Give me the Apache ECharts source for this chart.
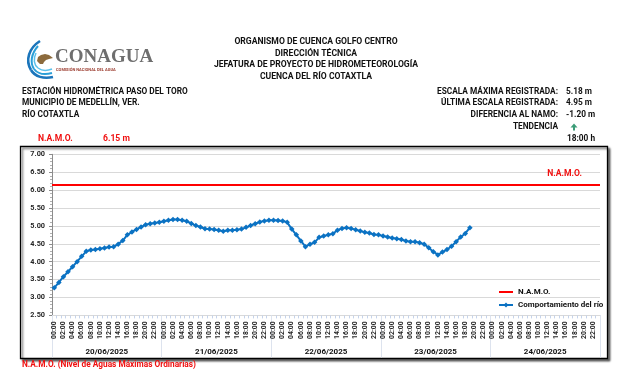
<!DOCTYPE html>
<html><head><meta charset="utf-8">
<script src="https://cdn.jsdelivr.net/npm/echarts@6/dist/echarts.min.js"></script>
<style>html,body{margin:0;padding:0;background:#fff}#c{width:633px;height:373px}</style>
</head><body><div id="c"></div>
<script>
// ---- data ----
var hourLabels = ['00:00','01:00','02:00','03:00','04:00','05:00','06:00','07:00','08:00','09:00','10:00','11:00',
                  '12:00','13:00','14:00','15:00','16:00','17:00','18:00','19:00','20:00','21:00','22:00','23:00'];
var dayLabels = ['20/06/2025','21/06/2025','22/06/2025','23/06/2025','24/06/2025'];
var namoLevel = 6.15;
var riverLevel = [
  3.27,3.42,3.58,3.72,3.86,4.00,4.15,4.29,4.33,4.34,4.36,4.38,4.41,4.42,4.49,4.59,4.75,4.83,4.90,4.97,
  5.03,5.06,5.08,5.10,5.13,5.16,5.18,5.18,5.16,5.13,5.07,5.01,4.97,4.92,4.91,4.90,4.88,4.85,4.88,4.88,
  4.89,4.91,4.96,5.01,5.06,5.11,5.14,5.16,5.16,5.15,5.14,5.10,4.91,4.75,4.58,4.42,4.49,4.54,4.68,4.72,
  4.75,4.78,4.88,4.93,4.95,4.93,4.89,4.86,4.82,4.80,4.76,4.75,4.72,4.69,4.66,4.64,4.62,4.58,4.56,4.56,
  4.53,4.49,4.39,4.28,4.19,4.27,4.34,4.43,4.56,4.69,4.79,4.95
];
var yTicks = {min: 2.5, max: 7, step: 0.5};
var titleLines = ['ORGANISMO DE CUENCA GOLFO CENTRO','DIRECCIÓN TÉCNICA','JEFATURA DE PROYECTO DE HIDROMETEOROLOGÍA','CUENCA DEL RÍO COTAXTLA'];
var stationLines = ['ESTACIÓN HIDROMÉTRICA PASO DEL TORO','MUNICIPIO DE MEDELLÍN, VER.','RÍO COTAXTLA'];
var infoLabels = ['ESCALA MÁXIMA REGISTRADA:','ÚLTIMA ESCALA REGISTRADA:','DIFERENCIA AL NAMO:','TENDENCIA'];
var infoValues = ['5.18 m','4.95 m','-1.20 m'];
var lastHour = '18:00 h';

// ---- build ----
var categories = [];
dayLabels.forEach(function(d){ hourLabels.forEach(function(h){ categories.push(h); }); });

var FONT = 'Roboto';
var txt = function(x, y, s, opt){
  opt = opt || {};
  return {type:'text', x:x, y:y, z:10, style:{text:s, fontWeight:'bold', fontSize:(opt.size||8.3), fontFamily:(opt.family||FONT),
    fill: opt.color || '#111', textAlign: opt.align || 'left', textVerticalAlign:'middle'}};
};
var bz = function(p, color, w){
  return {type:'bezierCurve', shape:{x1:p[0], y1:p[1], cpx1:p[2], cpy1:p[3], cpx2:p[4], cpy2:p[5], x2:p[6], y2:p[7]},
    style:{fill:null, stroke:color, lineWidth:w}};
};

var graphics = [];
// frame
graphics.push({type:'rect', z:-1, shape:{x:20.5, y:146.5, width:587, height:212},
  style:{fill:'#fff', stroke:'#000', lineWidth:1.3, shadowBlur:2, shadowOffsetX:2, shadowOffsetY:2, shadowColor:'rgba(0,0,0,0.55)'}});
// logo
graphics.push({type:'group', z:10, children:[
  bz([40,41, 29,48, 25,60, 31,70], '#1b75bb', 2.6),
  bz([31,70, 35,77, 44,79, 53,77], '#1b75bb', 2.6),
  bz([38,46, 31,54, 30,63, 34,69], '#2a9fd8', 2),
  bz([34,69, 38,74, 45,75, 52,73], '#2a9fd8', 2),
  bz([36,53, 33,59, 34,65, 38,68], '#5bc0ea', 1.5),
  bz([38,68, 42,71, 47,71, 52,69], '#5bc0ea', 1.5),
  {type:'polygon', shape:{points:[[37,61],[38,57],[41,55],[45,54],[49,55],[53,58],[49,59],[46,60],[44,62],[43,64],[40,64]]}, style:{fill:'#8c6a3c'}},
  {type:'text', x:55, y:57, style:{text:'CONAGUA', fontWeight:'bold', fontSize:19, fontFamily:'Liberation Serif', fill:'#6e6e6e', textVerticalAlign:'middle'}},
  {type:'text', x:56, y:70, style:{text:'COMISIÓN NACIONAL DEL AGUA', fontWeight:'bold', fontSize:4, fontFamily:FONT, fill:'#9b3b2e', textVerticalAlign:'middle'}}
]});
// center title
titleLines.forEach(function(s, i){ graphics.push(txt(316, 41.7 + i*11.7, s, {align:'center', size:8.6})); });
// station info
stationLines.forEach(function(s, i){ graphics.push(txt(22, 91.7 + i*11.7, s)); });
// right info
infoLabels.forEach(function(s, i){ graphics.push(txt(558, 91.7 + i*11.7, s, {align:'right'})); });
infoValues.forEach(function(s, i){ graphics.push(txt(566, 91.7 + i*11.7, s)); });
graphics.push({type:'polygon', z:10, shape:{points:[[570.5,127.5],[574,123.5],[577.5,127.5],[575,127.5],[575,130.5],[573,130.5],[573,127.5]]}, style:{fill:'#3c9d78'}});
graphics.push(txt(567, 139, lastHour));
// NAMO header
graphics.push(txt(38, 138.5, 'N.A.M.O.', {color:'#f01010', size:8.6}));
graphics.push(txt(103, 138.5, namoLevel.toFixed(2) + ' m', {color:'#f01010', size:8.6}));
graphics.push(txt(582, 174, 'N.A.M.O.', {color:'#f01010', align:'right', size:8.6}));
// footnote
graphics.push(txt(22, 365, 'N.A.M.O. (Nivel de Aguas Máximas Ordinarias)', {color:'#f01010'}));

var chart = echarts.init(document.getElementById('c'), null, {renderer:'canvas'});
chart.setOption({
  animation:false,
  textStyle:{fontFamily:FONT},
  grid:{left:52, top:154.3, right:33, bottom:57.6, containLabel:false},
  legend:{orient:'vertical', left:493, top:283, itemWidth:14, itemHeight:6, itemGap:5, symbolKeepAspect:true,
    data:[{name:'N.A.M.O.', icon:'path://M0,0 L14,0 L14,2 L0,2 Z'}, 'Comportamiento del río'],
    textStyle:{fontFamily:FONT, fontWeight:'bold', fontSize:8, color:'#111'}},
  xAxis:[{
    type:'category', data:categories, boundaryGap:true,
    axisLine:{show:true, lineStyle:{color:'#d9d9d9'}},
    axisTick:{show:true, interval:0, length:3, lineStyle:{color:'#c5d3ea'}},
    axisLabel:{interval:1, rotate:90, fontSize:6.8, fontWeight:'bold', color:'#262626', margin:6, fontFamily:FONT},
    splitLine:{show:false}
  },{
    type:'category', data:dayLabels, boundaryGap:true, position:'bottom',
    axisLine:{show:false},
    axisTick:{show:true, interval:0, length:42, lineStyle:{color:'#dde3ee'}},
    axisLabel:{interval:0, fontSize:8, fontWeight:'bold', color:'#111', margin:33, fontFamily:FONT},
    splitLine:{show:false}
  }],
  yAxis:{
    type:'value', min:yTicks.min, max:yTicks.max, interval:yTicks.step,
    axisLine:{show:true, lineStyle:{color:'#8c8c8c'}},
    axisTick:{show:true, length:3, lineStyle:{color:'#8c8c8c'}},
    minorTick:{show:true, splitNumber:5, length:2, lineStyle:{color:'#b0b0b0'}},
    axisLabel:{formatter:function(v){return v.toFixed(2);}, fontSize:7.3, fontWeight:'bold', color:'#262626', margin:7, fontFamily:FONT},
    splitLine:{show:true, lineStyle:{color:'#d9d9d9', width:1}}
  },
  series:[{
    name:'N.A.M.O.', type:'line', data:[], symbol:'none',
    itemStyle:{color:'#ff0000'}, lineStyle:{color:'#ff0000', width:2},
    markLine:{silent:true, symbol:'none', label:{show:false},
      lineStyle:{color:'#ff0000', width:2, type:'solid'}, data:[{yAxis:namoLevel}]}
  },{
    name:'Comportamiento del río', type:'line', data:riverLevel,
    symbol:'diamond', symbolSize:5.5, showSymbol:true, showAllSymbol:true,
    itemStyle:{color:'#0b72c3'}, lineStyle:{color:'#0b72c3', width:2}
  }],
  graphic:graphics
});
</script></body></html>
